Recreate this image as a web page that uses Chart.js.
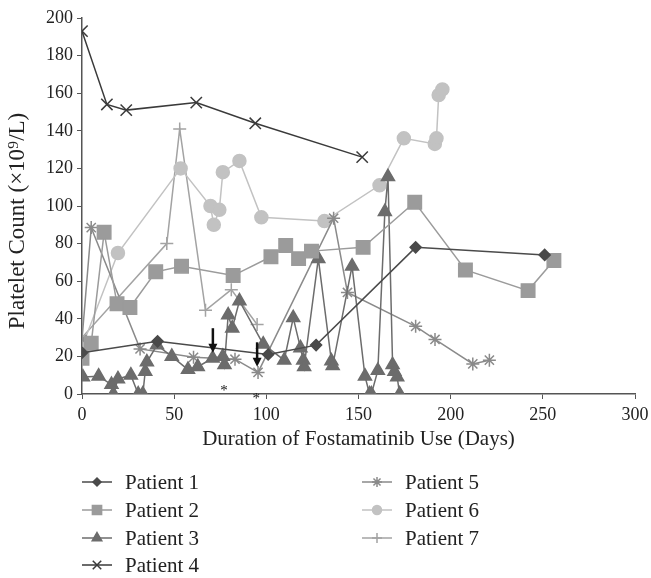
<!DOCTYPE html>
<html>
<head>
<meta charset="utf-8">
<script src="https://cdn.jsdelivr.net/npm/chart.js@4"></script>
<style>
  body { margin: 0; background: #fff; }
</style>
</head>
<body>
<canvas id="grafico" width="651" height="578"></canvas>
<script>
// dias de uso y recuento de plaquetas por paciente
const p1Days = [0, 41, 101, 127, 181, 251];
const p1Counts = [22, 28, 21, 26, 78, 74];

const p2Days = [0, 5, 12, 19, 26, 40, 54, 82, 102.5, 110.5, 117.5, 124.5, 152.5, 180.5, 208, 242, 256];
const p2Counts = [19, 27, 86, 48, 46, 65, 68, 63, 73, 79, 72, 76, 78, 102, 66, 55, 71];

const p3Days = [0.5, 9, 16, 17, 19.5, 26.5, 30.5, 33, 34.3, 35.2, 40.7, 48.7, 57.5, 62.8, 70.9, 76.4, 77.3, 79.3, 81.5, 85.4,
  98.3, 109.7, 114.6, 118.5, 120, 120.5, 128.2, 135.3, 136, 146.5, 153.5, 156, 157, 160.5, 164.3, 166, 168.5, 169.5, 171, 172.3];
const p3Counts = [9, 9.5, 5, 0, 8, 10, 0, 0, 12, 17, 26, 20, 13, 14.5, 19, 20, 15.5, 42, 35, 49.5,
  26.5, 18, 40.5, 24.5, 18, 14.5, 72, 17.5, 15, 68, 9.5, 0, 0, 12.5, 97, 115.5, 15.5, 12, 9, 0];

const p4Days = [0, 13.5, 24, 62, 94, 152];
const p4Counts = [193, 154, 151, 155, 144, 126];

const p5Days = [0, 5, 31.5, 60.5, 83, 95.5, 136.5, 144, 181, 191.5, 212, 221];
const p5Counts = [29, 88.5, 24, 19.5, 18.5, 11.5, 93.5, 54, 36, 29, 16, 18];

const p6Days = [0, 19.5, 53.5, 69.7, 71.5, 74.5, 76.4, 85.4, 97.3, 131.5, 161.4, 174.6, 191.4, 192.3, 193.5, 195.5];
const p6Counts = [25, 75, 120, 100, 90, 98, 118, 124, 94, 92, 111, 136, 133, 136, 159, 162];

const p7Days = [0, 46, 53, 67, 81, 95];
const p7Counts = [30, 80, 141, 44.5, 55.5, 37];

// flechas y asteriscos de anotacion
const arrowDays = [71, 95];
const arrowTop = [35, 27.5];
const arrowBottom = [22, 14.5];
const starDays = [77, 94.5];
const starCounts = [3.2, -1];

const xTicks = [0, 50, 100, 150, 200, 250, 300];
const yTicks = [0, 20, 40, 60, 80, 100, 120, 140, 160, 180, 200];

const FONT = "'Liberation Serif', 'DejaVu Serif', serif";

function pts(days, counts){
  return days.map((d, i) => ({x: d, y: counts[i]}));
}

const series = [
  {label: 'Patient 1', data: pts(p1Days, p1Counts), color: '#4a4a4a', style: 'rectRot', r: 5.5, lr: 4},
  {label: 'Patient 2', data: pts(p2Days, p2Counts), color: '#9b9b9b', style: 'rect', r: 9.5, lr: 6.5},
  {label: 'Patient 3', data: pts(p3Days, p3Counts), color: '#6c6c6c', style: 'triangle', r: 7.5, lr: 5.5},
  {label: 'Patient 4', data: pts(p4Days, p4Counts), color: '#3a3a3a', style: 'crossRot', r: 8, lr: 6},
  {label: 'Patient 5', data: pts(p5Days, p5Counts), color: '#8a8a8a', style: 'star', r: 6.5, lr: 5},
  {label: 'Patient 6', data: pts(p6Days, p6Counts), color: '#c2c2c2', style: 'circle', r: 6.5, lr: 4.5},
  {label: 'Patient 7', data: pts(p7Days, p7Counts), color: '#a3a3a3', style: 'cross', r: 6.5, lr: 5}
];

const notas = {
  id: 'notas',
  afterDatasetsDraw(chart){
    const {ctx, scales: {x, y}} = chart;
    ctx.save();
    ctx.fillStyle = '#111';
    ctx.strokeStyle = '#111';
    arrowDays.forEach((d, i) => {
      const px = x.getPixelForValue(d);
      const top = y.getPixelForValue(arrowTop[i]);
      const bot = y.getPixelForValue(arrowBottom[i]);
      ctx.lineWidth = 2.5;
      ctx.beginPath();
      ctx.moveTo(px, top);
      ctx.lineTo(px, bot - 7);
      ctx.stroke();
      ctx.beginPath();
      ctx.moveTo(px - 4.5, bot - 9);
      ctx.lineTo(px + 4.5, bot - 9);
      ctx.lineTo(px, bot);
      ctx.closePath();
      ctx.fill();
    });
    ctx.font = '15px ' + FONT;
    ctx.textAlign = 'center';
    ctx.textBaseline = 'middle';
    starDays.forEach((d, i) => {
      ctx.fillText('*', x.getPixelForValue(d), y.getPixelForValue(starCounts[i]) + 3);
    });
    ctx.restore();
  }
};

// titulo vertical y leyenda en dos columnas
const leyenda = {
  id: 'leyenda',
  afterDraw(chart){
    const ctx = chart.ctx;
    ctx.save();
    ctx.translate(18, 221);
    ctx.rotate(-Math.PI / 2);
    ctx.fillStyle = '#222';
    ctx.font = '23px ' + FONT;
    ctx.textAlign = 'center';
    ctx.textBaseline = 'middle';
    ctx.fillText('Platelet Count (×10⁹/L)', 0, 0);
    ctx.restore();

    const cols = [82, 362];
    const rows = [482, 510, 538, 565];
    ctx.save();
    series.forEach((s, i) => {
      const col = i < 4 ? 0 : 1;
      const row = i < 4 ? i : i - 4;
      const x0 = cols[col], yy = rows[row];
      ctx.strokeStyle = s.color;
      ctx.fillStyle = s.color;
      ctx.lineWidth = 1.5;
      ctx.beginPath();
      ctx.moveTo(x0, yy);
      ctx.lineTo(x0 + 30, yy);
      ctx.stroke();
      Chart.helpers.drawPoint(ctx, {pointStyle: s.style, radius: s.lr, rotation: 0, borderWidth: 1.5}, x0 + 15, yy);
      ctx.fillStyle = '#222';
      ctx.font = '21px ' + FONT;
      ctx.textAlign = 'left';
      ctx.textBaseline = 'middle';
      ctx.fillText(s.label, x0 + 43, yy + 1);
    });
    ctx.restore();
  }
};

new Chart(document.getElementById('grafico').getContext('2d'), {
  type: 'line',
  data: {
    datasets: series.map(s => ({
      label: s.label,
      data: s.data,
      borderColor: s.color,
      backgroundColor: s.color,
      borderWidth: 1.5,
      pointStyle: s.style,
      pointRadius: s.r,
      pointBorderWidth: 1.5,
      pointBackgroundColor: s.color,
      pointBorderColor: s.color,
      fill: false,
      tension: 0
    }))
  },
  options: {
    responsive: false,
    animation: false,
    layout: {padding: {left: 0, top: 18, right: 16, bottom: 122}},
    plugins: {legend: {display: false}, tooltip: {enabled: false}},
    scales: {
      x: {
        type: 'linear', min: 0, max: 300,
        afterBuildTicks: s => { s.ticks = xTicks.map(v => ({value: v})); },
        afterFit: s => { s.height = 62; s.paddingLeft = 0; s.paddingRight = 0; },
        grid: {drawOnChartArea: false, tickLength: 5, color: '#555'},
        border: {color: '#555', width: 1.5},
        ticks: {color: '#222', font: {family: FONT, size: 18}, padding: 5, maxRotation: 0},
        title: {display: true, text: 'Duration of Fostamatinib Use (Days)', color: '#222', font: {family: FONT, size: 21}, padding: {top: 6, bottom: 4}}
      },
      y: {
        min: 0, max: 200,
        afterBuildTicks: s => { s.ticks = yTicks.map(v => ({value: v})); },
        afterFit: s => { s.width = 82; s.paddingTop = 0; s.paddingBottom = 0; },
        grid: {drawOnChartArea: false, tickLength: 5, color: '#555'},
        border: {color: '#555', width: 1.5},
        ticks: {color: '#222', font: {family: FONT, size: 18}, padding: 4}
      }
    }
  },
  plugins: [notas, leyenda]
});
</script>
</body>
</html>
